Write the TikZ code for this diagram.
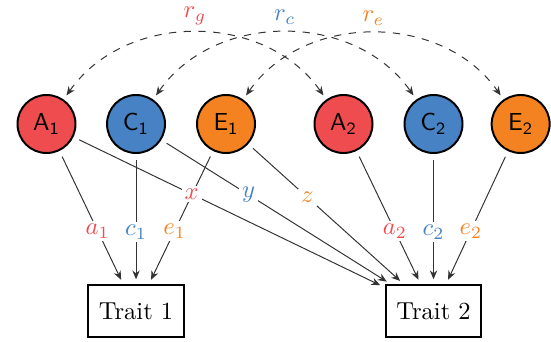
\documentclass[tikz,border=0pt]{standalone}
\usepackage{amsmath}
\usepackage{tikz}
\usetikzlibrary{arrows.meta,positioning}
\definecolor{gred}{HTML}{EF4C50}
\definecolor{cblue}{HTML}{4682C4}
\definecolor{eorange}{HTML}{F58220}
\definecolor{wire}{HTML}{333333}
\tikzset{
  latent/.style={circle,draw=black,thick,minimum size=23.6pt,inner sep=0pt,font=\sffamily},
  trait/.style={draw=black,thick,minimum width=39pt,minimum height=21pt,inner sep=2pt},
  coef/.style={fill=white,inner sep=1.2pt},
  arr/.style={-{Stealth[length=3.6pt,width=3pt]},draw=wire,shorten <=2.5pt,shorten >=2pt},
  corr/.style={{Stealth[length=3.6pt,width=3pt]}-{Stealth[length=3.6pt,width=3pt]},dashed,draw=wire,
    shorten <=2pt,shorten >=2pt,bend left=55,looseness=1.05},
}

\begin{document}
\begin{tikzpicture}[x=1cm,y=1cm]
  \useasboundingbox (0,0) rectangle (7.879,4.876);
  % twin 1
  \node[latent,fill=gred] (A1) at (0.665,3.103) {$\mathsf{A_1}$};
  \node[latent,fill=cblue] (C1) at (1.945,3.103) {$\mathsf{C_1}$};
  \node[latent,fill=eorange] (E1) at (3.232,3.103) {$\mathsf{E_1}$};
  % twin 2
  \node[latent,fill=gred] (A2) at (4.912,3.103) {$\mathsf{A_2}$};
  \node[latent,fill=cblue] (C2) at (6.199,3.103) {$\mathsf{C_2}$};
  \node[latent,fill=eorange] (E2) at (7.445,3.103) {$\mathsf{E_2}$};
  \node[trait] (T1) at (1.945,0.429) {Trait 1};
  \node[trait] (T2) at (6.199,0.429) {Trait 2};
  % correlations
  \draw[corr] (A1) to node[above,text=gred]{$r_g$} (A2);
  \draw[corr] (C1) to node[above,text=cblue]{$r_c$} (C2);
  \draw[corr] (E1) to node[above,text=eorange]{$r_e$} (E2);
  % paths
  \draw[arr] (A1) -- node[coef,pos=0.6,text=gred]{$a_1$} (T1);
  \draw[arr] (C1) -- node[coef,pos=0.6,text=cblue]{$c_1$} (T1);
  \draw[arr] (E1) -- node[coef,pos=0.6,text=eorange]{$e_1$} (T1);
  \draw[arr] (A2) -- node[coef,pos=0.6,text=gred]{$a_2$} (T2);
  \draw[arr] (C2) -- node[coef,pos=0.6,text=cblue]{$c_2$} (T2);
  \draw[arr] (E2) -- node[coef,pos=0.6,text=eorange]{$e_2$} (T2);
  % cross paths
  \draw[arr] (A1) -- node[coef,pos=0.38,text=gred]{$x$} (T2);
  \draw[arr] (C1) -- node[coef,pos=0.38,text=cblue]{$y$} (T2);
  \draw[arr] (E1) -- node[coef,pos=0.38,text=eorange]{$z$} (T2);
\end{tikzpicture}
\end{document}
